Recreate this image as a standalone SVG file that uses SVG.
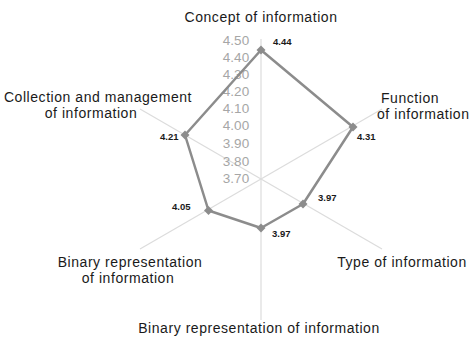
<svg xmlns="http://www.w3.org/2000/svg" width="472" height="337" viewBox="0 0 472 337">
<defs>
<style>
.lbl{font-family:"Liberation Sans",Arial,sans-serif;font-size:14px;letter-spacing:0.55px;fill:#1a1a1a}
.scale{font-family:"Liberation Sans",Arial,sans-serif;font-size:13.5px;fill:#a6a6a6;text-anchor:middle}
.val{font-family:"Liberation Sans",Arial,sans-serif;font-size:9.5px;font-weight:bold;fill:#1a1a1a}
.spoke{stroke:#dcdcdc;stroke-width:1.2;fill:none}
.series{stroke:#8c8c8c;stroke-width:2.5;fill:none;stroke-linejoin:round}
.mk{fill:#8c8c8c}
</style>
<path id="dia" d="M0,-4.5 L4.5,0 L0,4.5 L-4.5,0 Z"/>
</defs>
<rect width="472" height="337" fill="#ffffff"/>
<g id="connectors">
<line class="spoke" x1="261" y1="179" x2="261" y2="39"/>
<line class="spoke" x1="261" y1="179" x2="382" y2="109"/>
<line class="spoke" x1="261" y1="179" x2="382" y2="249"/>
<line class="spoke" x1="261" y1="179" x2="261" y2="320"/>
<line class="spoke" x1="261" y1="179" x2="140" y2="249"/>
<line class="spoke" x1="261" y1="179" x2="140" y2="109"/>
</g>
<g id="scale">
<text class="scale" x="236" y="45">4.50</text>
<text class="scale" x="236" y="62">4.40</text>
<text class="scale" x="236" y="79">4.30</text>
<text class="scale" x="236" y="96">4.20</text>
<text class="scale" x="236" y="113">4.10</text>
<text class="scale" x="236" y="130">4.00</text>
<text class="scale" x="236" y="148">3.90</text>
<text class="scale" x="236" y="166">3.80</text>
<text class="scale" x="236" y="183">3.70</text>
</g>
<g id="series">
<polygon class="series" points="261,50 353,127 303,204 261,228 208.5,210.5 185,135"/>
<use href="#dia" class="mk" x="261" y="50"/>
<use href="#dia" class="mk" x="353" y="127"/>
<use href="#dia" class="mk" x="303" y="204"/>
<use href="#dia" class="mk" x="261" y="228"/>
<use href="#dia" class="mk" x="208.5" y="210.5"/>
<use href="#dia" class="mk" x="185" y="135"/>
<text class="val" x="273" y="45">4.44</text>
<text class="val" x="357" y="140">4.31</text>
<text class="val" x="318" y="201">3.97</text>
<text class="val" x="272" y="237">3.97</text>
<text class="val" x="172" y="210">4.05</text>
<text class="val" x="160" y="140">4.21</text>
</g>
<g id="node-concept">
<text class="lbl" x="261" y="22" text-anchor="middle">Concept of information</text>
</g>
<g id="node-function">
<text class="lbl" x="381" y="103">Function</text>
<text class="lbl" x="377" y="119">of information</text>
</g>
<g id="node-type">
<text class="lbl" x="402" y="267" text-anchor="middle">Type of information</text>
</g>
<g id="node-binary-bottom">
<text class="lbl" x="259" y="333" text-anchor="middle">Binary representation of information</text>
</g>
<g id="node-binary-left">
<text class="lbl" x="130" y="267" text-anchor="middle">Binary representation</text>
<text class="lbl" x="128" y="283" text-anchor="middle">of information</text>
</g>
<g id="node-collection">
<text class="lbl" x="98" y="102" text-anchor="middle">Collection and management</text>
<text class="lbl" x="91" y="118" text-anchor="middle">of information</text>
</g>
</svg>
